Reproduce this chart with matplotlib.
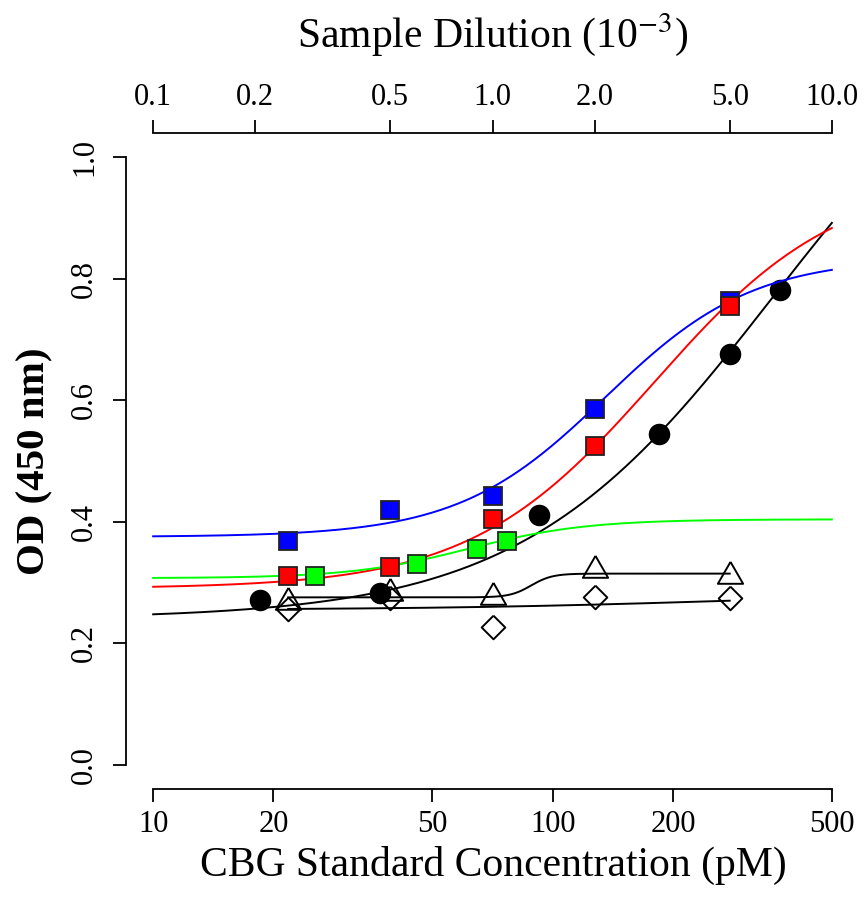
import numpy as np
import matplotlib
matplotlib.use("Agg")
import matplotlib.pyplot as plt

plt.rcParams['font.family'] = ['Liberation Serif', 'DejaVu Serif']
plt.rcParams['mathtext.fontset'] = 'stix'

# ---- data ----
std_conc = [18.5, 37, 92.5, 185, 278, 370]          # pM (bottom axis)
std_od = [0.271, 0.283, 0.411, 0.544, 0.676, 0.781]

dilution = [0.25, 0.5, 1.0, 2.0, 5.0]               # 10^-3 (top axis)
blue_od = [0.368, 0.419, 0.443, 0.586, 0.764]
red_od = [0.311, 0.326, 0.404, 0.525, 0.756]
triangle_od = [0.268, 0.283, 0.276, 0.320, 0.310]
diamond_od = [0.256, 0.274, 0.2275, 0.2755, 0.274]

green_dilution = [0.3, 0.6, 0.9, 1.1]
green_od = [0.311, 0.331, 0.355, 0.368]

# 4-parameter logistic fits: (bottom, top, midpoint, slope)
std_fit = [0.24, 1.30, 356.0, 1.38]
blue_fit = [0.375, 0.835, 2.15, 2.0]
red_fit = [0.29, 0.97, 3.0, 1.6]
green_fit = [0.307, 0.404, 0.85, 2.5]
triangle_fit = [0.2755, 0.3146, 1.3, 14.0]
diamond_fit = [0.255, 0.285, 5.0, 1.0]

bottom_ticks = [10, 20, 50, 100, 200, 500]
top_ticks = [0.1, 0.2, 0.5, 1.0, 2.0, 5.0, 10.0]
top_tick_labels = ['0.1', '0.2', '0.5', '1.0', '2.0', '5.0', '10.0']
y_ticks = [0.0, 0.2, 0.4, 0.6, 0.8, 1.0]


def four_pl(x, p):
    a, d, c, b = p
    r = (np.asarray(x) / c) ** b
    return a + (d - a) * r / (1.0 + r)


fig = plt.figure(figsize=(8.67, 8.98), dpi=100)
ax = fig.add_axes([126 / 867, 109 / 898, 733 / 867, 656 / 898])
ax2 = ax.twiny()

ext = 0.04
ax.set_xscale('log')
ax.set_xlim(10 * 50 ** (-ext), 500 * 50 ** ext)
ax.set_ylim(-0.04, 1.04)
ax2.set_xscale('log')
ax2.set_xlim(0.1 * 100 ** (-ext), 10 * 100 ** ext)

# triangle / diamond markers shaped like R pch 2 / pch 5
tri = [(0, 1.555), (1.347, -0.778), (-1.347, -0.778), (0, 1.555)]
dia = [(0, 1), (1, 0), (0, -1), (-1, 0), (0, 1)]

lw = 1.4
# standard curve (bottom axis)
xs = np.logspace(1, np.log10(500), 400)
ax.plot(xs, four_pl(xs, std_fit), color='black', lw=lw, zorder=2)

# sample curves (top axis)
xd = np.logspace(-1, 1, 400)
ax2.plot(xd, four_pl(xd, blue_fit), color='#0000FF', lw=lw, zorder=2)
ax2.plot(xd, four_pl(xd, red_fit), color='#FF0000', lw=lw, zorder=2)
ax2.plot(xd, four_pl(xd, green_fit), color='#00FF00', lw=lw, zorder=2)
xt = np.logspace(np.log10(dilution[0]), np.log10(dilution[-1]), 400)
ax2.plot(xt, four_pl(xt, triangle_fit), color='black', lw=lw, zorder=2)
ax2.plot(xt, four_pl(xt, diamond_fit), color='black', lw=lw, zorder=2)

# points
ax.plot(std_conc, std_od, 'o', color='black', ms=14.5, zorder=3)
sq = dict(marker='s', ms=12.5, mec='#222222', mew=1.3, ls='none', zorder=4)
ax2.plot(dilution, blue_od, mfc='#0000FF', **sq)
ax2.plot(dilution, red_od, mfc='#FF0000', **sq)
ax2.plot(green_dilution, green_od, mfc='#00FF00', **sq)
ax2.plot(dilution, triangle_od, marker=tri, ms=21, mfc='none', mec='black',
         mew=1.4, ls='none', zorder=4)
ax2.plot(dilution, diamond_od, marker=dia, ms=17, mfc='none', mec='black',
         mew=1.4, ls='none', zorder=4)

# spines & ticks
for s in ['top', 'right']:
    ax.spines[s].set_visible(False)
for s in ['bottom', 'left', 'right']:
    ax2.spines[s].set_visible(False)
ax.spines['bottom'].set_bounds(10, 500)
ax.spines['left'].set_bounds(0, 1)
ax2.spines['top'].set_bounds(0.1, 10)
for sp in [ax.spines['bottom'], ax.spines['left'], ax2.spines['top']]:
    sp.set_linewidth(1.3)

ax.set_xticks(bottom_ticks)
ax.set_xticklabels([str(t) for t in bottom_ticks])
ax.xaxis.set_minor_locator(matplotlib.ticker.NullLocator())
ax2.set_xticks(top_ticks)
ax2.set_xticklabels(top_tick_labels)
ax2.xaxis.set_minor_locator(matplotlib.ticker.NullLocator())
ax.set_yticks(y_ticks)
ax.set_yticklabels(['%.1f' % v for v in y_ticks])

ax.tick_params(axis='both', direction='out', length=9.4, width=1.3,
               labelsize=22, pad=6)
ax.tick_params(axis='y', pad=10)
ax2.tick_params(axis='x', direction='out', length=9.4, width=1.3,
                labelsize=22, pad=6)
for lab in ax.get_yticklabels():
    lab.set_rotation(90)
    lab.set_va('center')
    lab.set_ha('right')

fig.text(493 / 867, 1 - 865 / 898, 'CBG Standard Concentration (pM)',
         ha='center', va='center', fontsize=30)
fig.text(493 / 867, 1 - 35 / 898, 'Sample Dilution (10$^{-3}$)',
         ha='center', va='center', fontsize=30)
fig.text(35 / 867, 1 - 461 / 898, 'OD (450 nm)', rotation=90,
         ha='center', va='center', fontsize=29.5, fontweight='bold')

fig.savefig('out.png', dpi=100)
